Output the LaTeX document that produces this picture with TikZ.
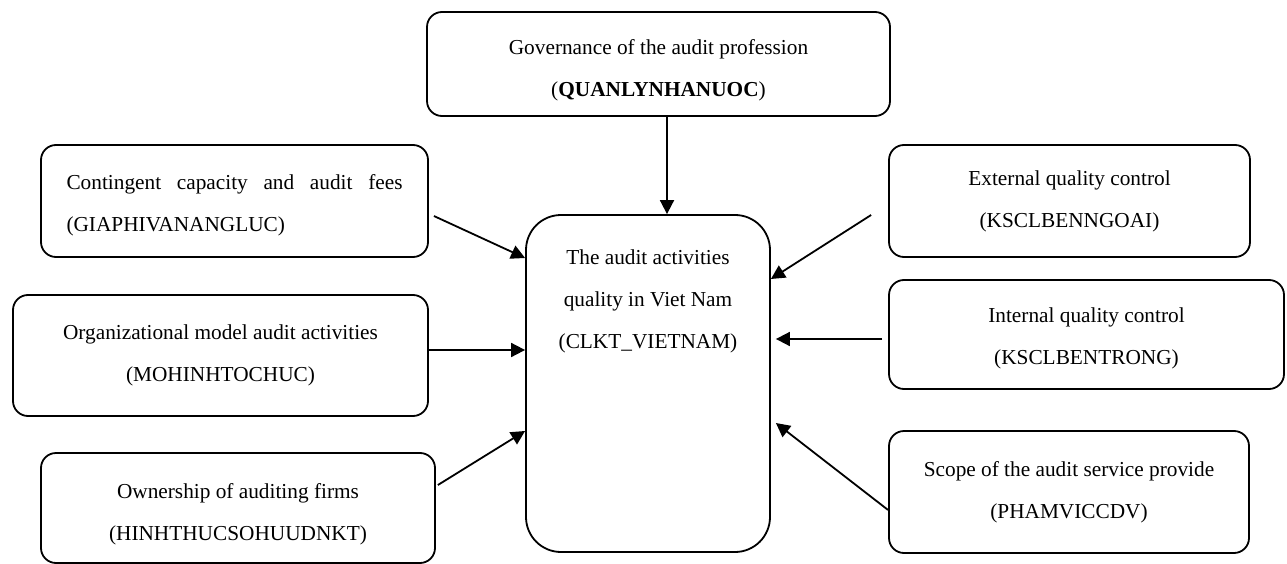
\documentclass[tikz,border=0pt]{standalone}
\usepackage{fontspec}
\setmainfont{Liberation Serif}
\usetikzlibrary{arrows.meta}
\newcommand\bxt[4]{\parbox[c][#2][t]{#1}{\vspace*{#3}\centering #4}}
\begin{document}
\begin{tikzpicture}[x=1pt,y=-1pt,
  box/.style={draw, line width=1.8pt, rounded corners=15pt, inner sep=0pt, align=center,
    font=\fontsize{21.3}{42}\selectfont},
  arr/.style={line width=1.8pt, -{Triangle[length=14pt,width=14pt]}}]
\useasboundingbox (0,0) rectangle (1287,564);

\node[box] (gov) at (658.5,64)
  {\bxt{463pt}{104pt}{28pt}{Governance of the audit profession\\(\textbf{QUANLYNHANUOC})}};
\node[box] (cap) at (234.5,201)
  {\bxt{387pt}{112pt}{30pt}{\parbox[t]{336pt}{\makebox[336pt][s]{Contingent capacity and audit fees}\\(GIAPHIVANANGLUC)}}};
\node[box] (org) at (220.5,355.5)
  {\bxt{415pt}{121pt}{30pt}{Organizational model audit activities\\(MOHINHTOCHUC)}};
\node[box] (own) at (238,508)
  {\bxt{394pt}{110pt}{30pt}{Ownership of auditing firms\\(HINHTHUCSOHUUDNKT)}};
\node[box] (ext) at (1069.5,201)
  {\bxt{361pt}{112pt}{26pt}{External quality control\\(KSCLBENNGOAI)}};
\node[box] (int) at (1086.5,334.5)
  {\bxt{395pt}{109pt}{28pt}{Internal quality control\\(KSCLBENTRONG)}};
\node[box] (scope) at (1069,492)
  {\bxt{360pt}{122pt}{30pt}{Scope of the audit service provide\\(PHAMVICCDV)}};
\node[box, rounded corners=35pt] (ctr) at (648,383.5)
  {\bxt{244pt}{337pt}{35pt}{The audit activities\\quality in Viet Nam\\(CLKT\_VIETNAM)}};

\draw[arr] ([xshift=8.5pt]gov.south) -- ([xshift=19pt]ctr.north);
\draw[arr] ([xshift=5pt,yshift=-15pt]cap.east) -- ([yshift=125.5pt]ctr.west);
\draw[arr] ([yshift=5.5pt]org.east) -- ([yshift=33.5pt]ctr.west);
\draw[arr] ([xshift=2pt,yshift=23pt]own.east) -- ([yshift=-47.5pt]ctr.west);
\draw[arr] ([xshift=-17pt,yshift=-14pt]ext.west) -- ([yshift=104.5pt]ctr.east);
\draw[arr] ([xshift=-6pt,yshift=-4.5pt]int.west) -- ([xshift=5pt,yshift=44.5pt]ctr.east);
\draw[arr] ([yshift=-18pt]scope.west) -- ([xshift=5pt,yshift=-39.5pt]ctr.east);
\end{tikzpicture}
\end{document}
